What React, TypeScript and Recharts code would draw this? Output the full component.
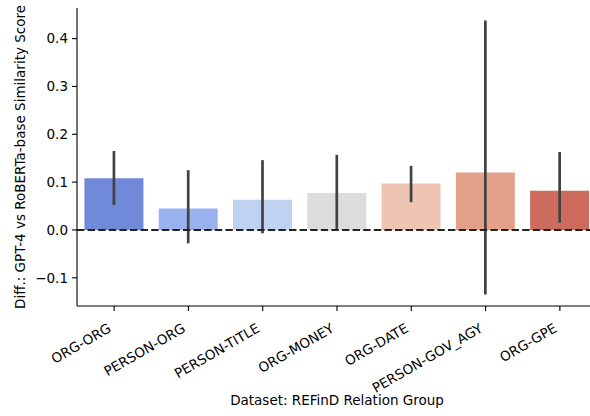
import React from "react";
import {
  BarChart,
  Bar,
  XAxis,
  YAxis,
  Cell,
  ErrorBar,
  ReferenceLine,
  Customized,
} from "recharts";

const categories = [
  "ORG-ORG",
  "PERSON-ORG",
  "PERSON-TITLE",
  "ORG-MONEY",
  "ORG-DATE",
  "PERSON-GOV_AGY",
  "ORG-GPE",
];
const means = [0.108, 0.045, 0.063, 0.077, 0.097, 0.12, 0.082];
const ciLow = [0.052, -0.028, -0.007, 0.001, 0.058, -0.135, 0.015];
const ciHigh = [0.165, 0.125, 0.146, 0.157, 0.134, 0.438, 0.163];
const colors = [
  "#7089d9",
  "#9ab3ef",
  "#c0d2f2",
  "#dcdcdc",
  "#edc5b2",
  "#e5a089",
  "#cd6b5d",
];
const yTicks = [-0.1, 0, 0.1, 0.2, 0.3, 0.4];

const data = categories.map((c, i) => ({
  name: c,
  value: means[i],
  err: [means[i] - ciLow[i], ciHigh[i] - means[i]],
}));

const FONT = "DejaVu Sans, sans-serif";
const FS = 13.5;

const fmt = (v: number) => {
  const s = v.toFixed(1);
  return v < 0 ? "\u2212" + s.slice(1) : s;
};

const XTick = (props: any) => {
  const { x, y, payload } = props;
  const ax = x - 2;
  const ay = y + 20;
  return (
    <text
      x={ax}
      y={ay}
      textAnchor="end"
      fontSize={FS}
      fontFamily={FONT}
      fill="#000"
      transform={`rotate(-30, ${ax}, ${ay})`}
    >
      {payload.value}
    </text>
  );
};

const Labels = () => (
  <g>
    <text
      x={20}
      y={157}
      textAnchor="middle"
      dominantBaseline="central"
      fontSize={FS}
      fontFamily={FONT}
      fill="#000"
      transform="rotate(-90, 20, 157)"
    >
      Diff.: GPT-4 vs RoBERTa-base Similarity Score
    </text>
    <text
      x={337}
      y={400}
      textAnchor="middle"
      dominantBaseline="central"
      fontSize={FS}
      fontFamily={FONT}
      fill="#000"
    >
      Dataset: REFinD Relation Group
    </text>
  </g>
);

export default function App() {
  return (
    <div
      style={{
        position: "absolute",
        left: 0,
        top: 0,
        width: 590,
        height: 416,
        overflow: "hidden",
        background: "#fff",
      }}
    >
      <BarChart
        width={600}
        height={416}
        data={data}
        margin={{ top: 8, right: 3, bottom: 0, left: 0 }}
        barCategoryGap="10%"
      >
        <XAxis
          dataKey="name"
          height={110}
          tick={<XTick />}
          tickSize={5}
          tickMargin={0}
          interval={0}
          axisLine={{ stroke: "#000", strokeWidth: 1.1 }}
          tickLine={{ stroke: "#000", strokeWidth: 1.1 }}
        />
        <XAxis
          xAxisId="top"
          dataKey="name"
          orientation="top"
          height={0}
          tick={false}
          tickLine={false}
          axisLine={{ stroke: "#000", strokeWidth: 1.1 }}
        />
        <YAxis
          width={77}
          domain={[-0.159, 0.464]}
          ticks={yTicks}
          allowDataOverflow
          tickFormatter={fmt}
          tickSize={5}
          tickMargin={4}
          tick={{ fontSize: FS, fontFamily: FONT, fill: "#000" }}
          axisLine={{ stroke: "#000", strokeWidth: 1.1 }}
          tickLine={{ stroke: "#000", strokeWidth: 1.1 }}
        />
        <YAxis
          yAxisId="right"
          orientation="right"
          width={0}
          tick={false}
          tickLine={false}
          axisLine={{ stroke: "#000", strokeWidth: 1.1 }}
        />
        <Bar dataKey="value" isAnimationActive={false}>
          {data.map((d, i) => (
            <Cell key={d.name} fill={colors[i]} />
          ))}
          <ErrorBar
            dataKey="err"
            width={0}
            stroke="#424242"
            strokeWidth={2.7}
            direction="y"
          />
        </Bar>
        <ReferenceLine
          y={0}
          stroke="#222"
          strokeWidth={2}
          strokeDasharray="7.4 3.2"
        />
        <Customized component={Labels} />
      </BarChart>
    </div>
  );
}
